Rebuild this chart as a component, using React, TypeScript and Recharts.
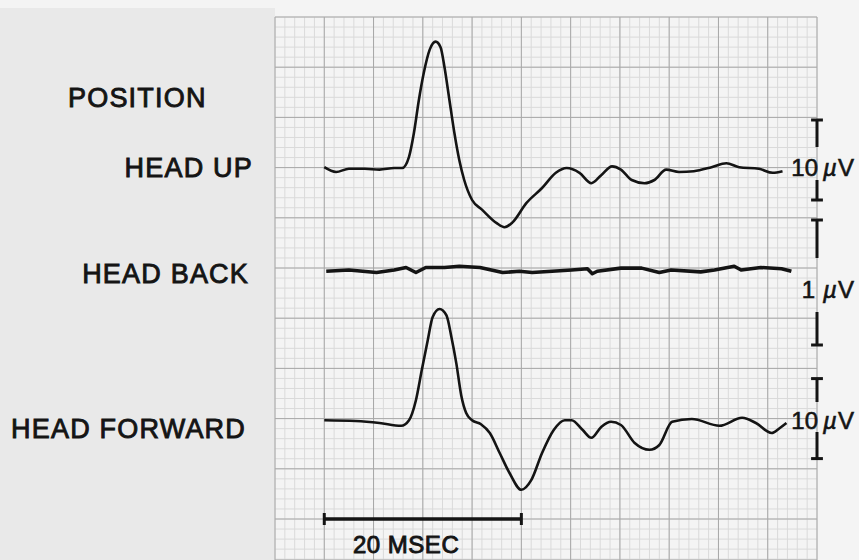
import React from "react";
import {
  CartesianGrid,
  ComposedChart,
  Line,
  ReferenceDot,
  ReferenceLine,
  XAxis,
  YAxis,
} from "recharts";

// [time after stimulus (ms), amplitude (µV)]
const headUp: [number, number][] = [
  [0, 0.1], [1.2, -0.5], [2.5, -0.1], [4.1, -0.1], [5.6, -0.2], [7.1, 0],
  [7.9, 0], [8.6, 1.4], [9.1, 4.4], [9.6, 8.5], [10.1, 11.9], [10.7, 14.8],
  [11.3, 15.8], [11.8, 15.1], [12.2, 12.6], [12.7, 8.5], [13.2, 4.4],
  [13.7, 1.0], [14.2, -1.5], [15.0, -4.0], [16.0, -5.2], [17.5, -6.9],
  [18.3, -7.4], [19.1, -6.8], [20.5, -4.4], [22.1, -2.5], [23.5, -0.6],
  [24.6, 0], [25.9, -0.6], [27.1, -1.9], [28.1, -0.9], [29.2, 0.2],
  [30.1, -0.2], [31.2, -1.5], [32.5, -1.9], [33.5, -1.5], [34.7, -0.2],
  [36.0, -0.5], [37.5, -0.4], [39.3, 0.1], [40.8, 0.6], [42.1, 0.1],
  [44.1, -0.1], [45.5, -0.6], [46.5, -0.4],
];

const headBack: [number, number][] = [
  [0.2, -0.01], [2.5, 0], [5.3, -0.02], [7.1, 0], [8.3, 0.02], [9.3, -0.02],
  [10.3, 0.02], [12.2, 0.02], [13.7, 0.03], [15.8, 0.02], [18.1, -0.02],
  [19.8, -0.01], [21.1, -0.02], [23.1, -0.01], [25.1, 0], [26.7, 0.01],
  [27.2, -0.03], [27.7, -0.01], [30.1, 0.015], [32.2, 0.015], [34.0, -0.02],
  [35.2, 0], [38.2, -0.015], [39.6, 0], [41.6, 0.03], [42.3, 0],
  [44.3, 0.02], [46.4, 0.01], [47.4, -0.01],
];

const headForward: [number, number][] = [
  [0, 0.1], [3.2, 0], [5.6, -0.25], [7.8, -0.6], [8.6, 0.1], [9.3, 2.6],
  [9.9, 6.4], [10.5, 10.1], [11.0, 13], [11.7, 14], [12.4, 13.2],
  [12.9, 10.5], [13.4, 7.2], [13.9, 3.2], [14.4, 1.0], [15.0, 0.1],
  [15.9, -0.4], [16.8, -1.5], [17.8, -4.0], [18.8, -6.5], [20.0, -8.6],
  [21.0, -7.4], [22.1, -4.0], [23.3, -1.1], [24.4, 0.1], [25.1, 0.1],
  [26.2, -1.1], [27.1, -2.1], [28.1, -0.75], [29.1, -0.1], [30.1, -0.5],
  [31.5, -2.75], [33.0, -3.6], [34.0, -3.0], [35.3, -0.1], [37.3, 0.25],
  [40.1, -0.6], [42.4, 0.4], [43.8, -0.25], [45.4, -1.5], [46.2, -0.9],
  [46.9, -0.25],
];

// calibration bars: [low, high] in µV, label sits at `at`
const calibrations = [
  { id: "up", lo: -4, hi: 6, at: 0, value: "10" },
  { id: "back", lo: -0.6, hi: 0.4, at: -0.16, value: "1" },
  { id: "fwd", lo: -4.7, hi: 5.3, at: 0, value: "10" },
];

const timeBarMs = [0, 20];

const positionLabels = ["HEAD UP", "HEAD BACK", "HEAD FORWARD"];

const W = 859;
const H = 560;
const PLOT = { top: 17, bottom: 560, left: 275, right: 817 };
const DIV_PX = 50.2;
const paperDivs = (PLOT.bottom - PLOT.top) / DIV_PX;
const MS_DOMAIN: [number, number] = [-5, 50];

// baseline pixel and gain (px per µV) for each channel
const layout: Record<string, { base: number; gain: number; gapUp: number; gapDown: number }> = {
  up: { base: 168, gain: 8, gapUp: 21, gapDown: 12 },
  back: { base: 270, gain: 125, gapUp: 32, gapDown: 22 },
  fwd: { base: 421, gain: 8, gapUp: 19, gapDown: 11 },
};

const domainFor = (id: string): [number, number] => {
  const { base, gain } = layout[id];
  return [-(PLOT.bottom - base) / gain, (base - PLOT.top) / gain];
};

const majorMs = [-5, 0, 5, 10, 15, 20, 25, 30, 35, 40, 45, 50];
const minorMs = Array.from({ length: 56 }, (_, i) => i - 5);
const majorDivs = Array.from({ length: 11 }, (_, i) => i);
const minorDivs = Array.from({ length: 55 }, (_, i) => +(i * 0.2).toFixed(1));

const toRows = (pts: [number, number][]) => pts.map(([t, uv]) => ({ t, uv }));

// fine 1 ms rulings across the plot area
const minorVerticals = ({ xAxis, offset }: any) => {
  const s = xAxis?.scale;
  if (typeof s === "function") return minorMs.map((t) => s(t));
  if (s && typeof s.map === "function") return minorMs.map((t) => s.map(t));
  const [d0, d1] = MS_DOMAIN;
  return minorMs.map((t) => offset.left + ((t - d0) / (d1 - d0)) * offset.width);
};

const INK = "#141414";
const FONT = "'Liberation Sans', Arial, sans-serif";

function CalLabel(props: any) {
  const { cx, cy, value } = props;
  const one = value === "1";
  return (
    <g fontFamily={FONT} fontSize={24} fill={INK} stroke={INK} strokeWidth={0.6}>
      <text x={one ? cx - 2 : cx + 1} y={cy + 8} textAnchor="end">
        {value}
      </text>
      <text x={cx + 6} y={cy + 8} textAnchor="start" fontStyle="italic">
        µ
      </text>
      <text x={cx + 21} y={cy + 8} textAnchor="start">
        V
      </text>
    </g>
  );
}

function CalibrationBar({ c }: { c: (typeof calibrations)[number] }) {
  const { gain, gapUp, gapDown } = layout[c.id];
  const stemTop = c.at + gapUp / gain;
  const stemBottom = c.at - gapDown / gain;
  const common = {
    xAxisId: "ms",
    yAxisId: c.id,
    stroke: INK,
    strokeWidth: 3,
    ifOverflow: "visible" as const,
  };
  return [
    <ReferenceLine key={c.id + "a"} {...common} segment={[{ x: 50, y: c.hi }, { x: 50, y: stemTop }]} />,
    <ReferenceLine key={c.id + "b"} {...common} segment={[{ x: 50, y: stemBottom }, { x: 50, y: c.lo }]} />,
    <ReferenceLine key={c.id + "c"} {...common} segment={[{ x: 49.4, y: c.hi }, { x: 50.6, y: c.hi }]} />,
    <ReferenceLine key={c.id + "d"} {...common} segment={[{ x: 49.4, y: c.lo }, { x: 50.6, y: c.lo }]} />,
  ];
}

export default function App() {
  return (
    <div
      style={{
        position: "absolute",
        left: 0,
        top: 0,
        width: W,
        height: H,
        background: "#f4f4f4",
        overflow: "hidden",
      }}
    >
      <div style={{ position: "absolute", left: 0, top: 8, width: PLOT.left, height: H - 8, background: "#e9e9e9" }} />
      <ComposedChart
        width={W}
        height={H}
        margin={{ top: PLOT.top, right: W - PLOT.right, bottom: H - PLOT.bottom, left: PLOT.left }}
        style={{ position: "absolute", left: 0, top: 0 }}
      >
        <XAxis xAxisId="ms" type="number" dataKey="t" domain={MS_DOMAIN} ticks={majorMs} interval={0} allowDataOverflow hide />
        <YAxis yAxisId="div" type="number" domain={[0, paperDivs]} ticks={majorDivs} interval={0} reversed allowDataOverflow hide />
        <YAxis yAxisId="divMinor" type="number" domain={[0, paperDivs]} ticks={minorDivs} interval={0} reversed allowDataOverflow hide />
        {Object.keys(layout).map((id) => (
          <YAxis key={id} yAxisId={id} type="number" domain={domainFor(id)} allowDataOverflow hide />
        ))}

        <CartesianGrid xAxisId="ms" yAxisId="divMinor" stroke="#dadada" strokeWidth={1} fill="#f4f4f4"
          verticalCoordinatesGenerator={minorVerticals} />
        <CartesianGrid xAxisId="ms" yAxisId="div" stroke="#a8a8a8" strokeWidth={1} />

        <Line xAxisId="ms" yAxisId="up" data={toRows(headUp)} dataKey="uv" type="monotone"
          stroke={INK} strokeWidth={2.6} dot={false} isAnimationActive={false} />
        <Line xAxisId="ms" yAxisId="back" data={toRows(headBack)} dataKey="uv" type="linear"
          stroke={INK} strokeWidth={3.6} strokeLinejoin="round" dot={false} isAnimationActive={false} />
        <Line xAxisId="ms" yAxisId="fwd" data={toRows(headForward)} dataKey="uv" type="monotone"
          stroke={INK} strokeWidth={2.6} dot={false} isAnimationActive={false} />

        {calibrations.map((c) => CalibrationBar({ c }))}
        {calibrations.map((c) => (
          <ReferenceDot key={c.id + "lbl"} xAxisId="ms" yAxisId={c.id} x={50} y={c.at} ifOverflow="visible"
            shape={(p: any) => <CalLabel {...p} value={c.value} />} />
        ))}

        {/* 20 ms time bar along the tenth major line */}
        <ReferenceLine xAxisId="ms" yAxisId="div" ifOverflow="visible" stroke={INK} strokeWidth={3.5}
          segment={[{ x: timeBarMs[0], y: 10 }, { x: timeBarMs[1], y: 10 }]} />
        {timeBarMs.map((t) => (
          <ReferenceLine key={"tb" + t} xAxisId="ms" yAxisId="div" ifOverflow="visible" stroke={INK} strokeWidth={3}
            segment={[{ x: t, y: 9.88 }, { x: t, y: 10.12 }]} />
        ))}
      </ComposedChart>

      <svg width={W} height={H} style={{ position: "absolute", left: 0, top: 0, pointerEvents: "none" }}>
        <g fontFamily={FONT} fill={INK} stroke={INK} strokeWidth={0.9} fontSize={27} letterSpacing={1.2}>
          <text x={68} y={107}>POSITION</text>
          <text x={253} y={177} textAnchor="end">{positionLabels[0]}</text>
          <text x={249} y={283} textAnchor="end">{positionLabels[1]}</text>
          <text x={246} y={438} textAnchor="end">{positionLabels[2]}</text>
          <text x={353} y={553} fontSize={24} letterSpacing={0.5}>
            {timeBarMs[1]} MSEC
          </text>
        </g>
      </svg>
    </div>
  );
}
